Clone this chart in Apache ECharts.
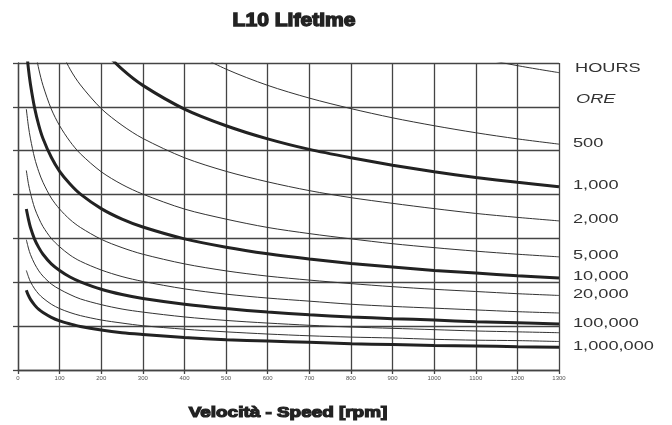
<!DOCTYPE html>
<html>
<head>
<meta charset="utf-8">
<title>L10 Lifetime</title>
<script src="https://cdn.jsdelivr.net/npm/echarts@6/dist/echarts.min.js"></script>
<style>
  html, body { margin: 0; padding: 0; background: #fff; }
  #chart { width: 672px; height: 425px; }
</style>
</head>
<body>
<div id="chart"></div>
<script>
// speeds (rpm) where the curves were read
const speeds = [20, 25, 30, 40, 50, 60, 80, 100, 125, 150, 200, 250, 300, 400, 500, 600, 700, 800, 900, 1000, 1100, 1200, 1300];

// load (grid units), null = curve not drawn there
const h200 = [null, null, null, null, null, null, null, null, null, null, null, null, null, null, null, null, null, null, null, 7.34, 7.13, 6.94, 6.78];
const h500 = [null, null, null, null, null, null, null, null, null, null, null, null, null, 7.33, 6.86, 6.49, 6.20, 5.96, 5.75, 5.57, 5.41, 5.27, 5.15];
const h1000 = [null, null, null, null, null, null, null, null, null, null, 7.33, 6.86, 6.49, 5.95, 5.57, 5.27, 5.03, 4.84, 4.67, 4.52, 4.39, 4.28, 4.18];
const h2000 = [null, null, null, null, null, null, null, 7.34, 6.86, 6.50, 5.96, 5.58, 5.28, 4.84, 4.53, 4.29, 4.09, 3.93, 3.80, 3.68, 3.57, 3.48, 3.40];
const h5000 = [null, null, null, 7.33, 6.86, 6.49, 5.95, 5.57, 5.21, 4.93, 4.52, 4.23, 4.01, 3.67, 3.44, 3.25, 3.11, 2.99, 2.88, 2.79, 2.71, 2.64, 2.58];
const h10000 = [7.35, 6.87, 6.51, 5.97, 5.58, 5.28, 4.85, 4.53, 4.24, 4.01, 3.68, 3.44, 3.26, 2.99, 2.80, 2.65, 2.53, 2.43, 2.35, 2.27, 2.21, 2.15, 2.10];
const h20000 = [5.95, 5.56, 5.27, 4.83, 4.52, 4.28, 3.92, 3.67, 3.43, 3.25, 2.98, 2.79, 2.64, 2.42, 2.26, 2.14, 2.05, 1.97, 1.90, 1.84, 1.79, 1.74, 1.70];
const h50000 = [4.55, 4.25, 4.03, 3.69, 3.46, 3.27, 3.00, 2.81, 2.62, 2.48, 2.28, 2.13, 2.02, 1.85, 1.73, 1.64, 1.57, 1.50, 1.45, 1.41, 1.37, 1.33, 1.30];
const h100000 = [3.67, 3.44, 3.25, 2.98, 2.79, 2.64, 2.42, 2.27, 2.12, 2.01, 1.84, 1.72, 1.63, 1.50, 1.40, 1.32, 1.26, 1.21, 1.17, 1.14, 1.10, 1.08, 1.05];
const h200000 = [2.97, 2.78, 2.63, 2.42, 2.26, 2.14, 1.96, 1.84, 1.72, 1.62, 1.49, 1.39, 1.32, 1.21, 1.13, 1.07, 1.02, 0.98, 0.95, 0.92, 0.89, 0.87, 0.85];
const h500000 = [2.27, 2.13, 2.01, 1.85, 1.73, 1.64, 1.50, 1.40, 1.31, 1.24, 1.14, 1.07, 1.01, 0.93, 0.87, 0.82, 0.78, 0.75, 0.73, 0.70, 0.68, 0.67, 0.65];
const h1000000 = [1.82, 1.70, 1.61, 1.48, 1.38, 1.31, 1.20, 1.12, 1.05, 0.99, 0.91, 0.85, 0.81, 0.74, 0.69, 0.66, 0.63, 0.60, 0.58, 0.56, 0.55, 0.53, 0.52];

// curve list: values, thick line?, label at right end
const curves = [
  { values: h200, thick: false, label: '' },
  { values: h500, thick: false, label: '500' },
  { values: h1000, thick: true, label: '1,000' },
  { values: h2000, thick: false, label: '2,000' },
  { values: h5000, thick: false, label: '5,000' },
  { values: h10000, thick: true, label: '10,000' },
  { values: h20000, thick: false, label: '20,000' },
  { values: h50000, thick: false, label: '' },
  { values: h100000, thick: true, label: '100,000' },
  { values: h200000, thick: false, label: '' },
  { values: h500000, thick: false, label: '' },
  { values: h1000000, thick: true, label: '1,000,000' }
];

const headerLabels = ['HOURS', 'ORE'];

const chart = echarts.init(document.getElementById('chart'));
const gridColor = '#444';
const font = '"Liberation Sans", Arial, sans-serif';

const option = {
  backgroundColor: '#fff',
  animation: false,
  grid: { left: 18, right: 113, top: 63, bottom: 55 },
  xAxis: {
    type: 'value',
    min: 0,
    max: 1300,
    interval: 100,
    axisLine: { lineStyle: { color: gridColor, width: 1.3 } },
    axisTick: { show: true, length: 4, lineStyle: { color: gridColor, width: 1.3 } },
    axisLabel: { fontSize: 6, color: '#555', margin: 5, fontFamily: font, formatter: v => String(v) },
    splitLine: { show: true, lineStyle: { color: gridColor, width: 1.3 } }
  },
  yAxis: {
    type: 'value',
    min: 0,
    max: 7,
    interval: 1,
    axisLine: { show: true, lineStyle: { color: gridColor, width: 1.3 } },
    axisTick: { show: true, length: 5, lineStyle: { color: gridColor, width: 1.3 } },
    axisLabel: { show: false },
    splitLine: { show: true, lineStyle: { color: gridColor, width: 1.3 } }
  },
  series: curves.map(c => ({
    type: 'line',
    data: speeds.map((s, i) => [s, c.values[i]]).filter(p => p[1] != null),
    smooth: 0.3,
    showSymbol: false,
    clip: true,
    lineStyle: { color: c.thick ? '#222' : '#333', width: c.thick ? 3 : 1 }
  }))
};
chart.setOption(option);

// texts: stretched horizontally like the original image
const graphics = [
  {
    type: 'text', x: 294, y: 21, scaleX: 1.17,
    style: { text: 'L10 Lifetime', font: 'bold 18px ' + font, fill: '#222', stroke: '#222', lineWidth: 1.3,
      textAlign: 'center', textVerticalAlign: 'middle', align: 'center', verticalAlign: 'middle' }
  },
  {
    type: 'text', x: 288, y: 413, scaleX: 1.26,
    style: { text: 'Velocità - Speed [rpm]', font: 'bold 15px ' + font, fill: '#222', stroke: '#222', lineWidth: 1.2,
      textAlign: 'center', textVerticalAlign: 'middle', align: 'center', verticalAlign: 'middle' }
  },
  {
    type: 'text', x: 575, y: 68, scaleX: 1.4,
    style: { text: headerLabels[0], font: '13px ' + font, fill: '#333',
      textAlign: 'left', textVerticalAlign: 'middle', align: 'left', verticalAlign: 'middle' }
  },
  {
    type: 'text', x: 576, y: 99, scaleX: 1.4,
    style: { text: headerLabels[1], font: 'italic 13px ' + font, fill: '#333',
      textAlign: 'left', textVerticalAlign: 'middle', align: 'left', verticalAlign: 'middle' }
  }
];
curves.forEach(c => {
  if (!c.label) return;
  const last = c.values[c.values.length - 1];
  const pt = chart.convertToPixel({ gridIndex: 0 }, [speeds[speeds.length - 1], last]);
  graphics.push({
    type: 'text', x: pt[0] + 14, y: pt[1] - 1, scaleX: 1.4,
    style: { text: c.label, font: '13px ' + font, fill: '#333',
      textAlign: 'left', textVerticalAlign: 'middle', align: 'left', verticalAlign: 'middle' }
  });
});
chart.setOption({ graphic: graphics });
</script>
</body>
</html>
